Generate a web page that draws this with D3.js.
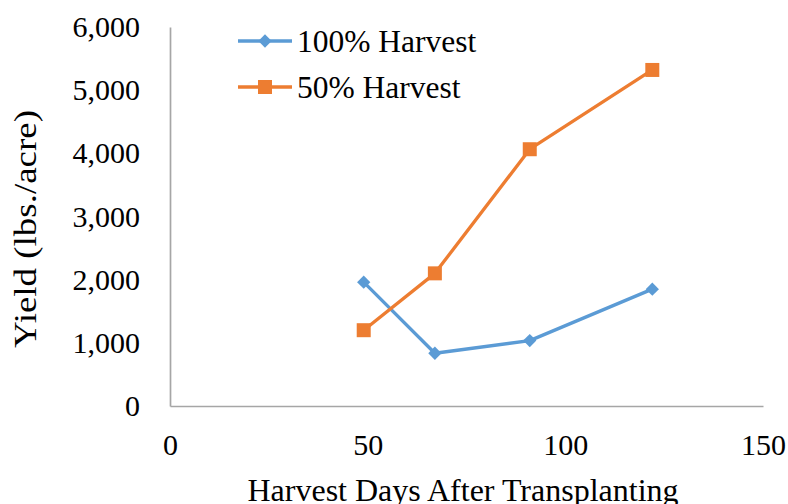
<html>
<head>
<script src="https://cdn.jsdelivr.net/npm/d3@7"></script>
<style>
  body { margin: 0; background: #fff; }
  text { font-family: "Liberation Serif", "Times New Roman", serif; fill: #000; }
</style>
</head>
<body>
<script>
// data
var days = [49, 67, 91, 122];
var full = [1960, 835, 1035, 1850];     // 100% Harvest
var half = [1200, 2100, 4065, 5320];    // 50% Harvest
var xTicks = [0, 50, 100, 150];
var yTicks = [0, 1000, 2000, 3000, 4000, 5000, 6000];
var seriesNames = ["100% Harvest", "50% Harvest"];

var w = 788, h = 504;
var m = { left: 170, right: 763, top: 27, bottom: 406 };

var svg = d3.select("body").append("svg")
    .attr("width", w)
    .attr("height", h);

var x = d3.scaleLinear().domain([0, 150]).range([m.left, m.right]);
var y = d3.scaleLinear().domain([0, 6000]).range([m.bottom, m.top]);

/* axes */
var yAxis = svg.append("g")
    .attr("transform", "translate(" + m.left + ",0)")
    .call(d3.axisLeft(y).tickValues(yTicks).tickSize(0).tickPadding(30)
        .tickFormat(d3.format(",")));
var xAxis = svg.append("g")
    .attr("transform", "translate(0," + m.bottom + ")")
    .call(d3.axisBottom(x).tickValues(xTicks).tickSize(0).tickPadding(28));

[xAxis, yAxis].forEach(function(a) {
    a.select(".domain").attr("stroke", "#a6a6a6").attr("stroke-width", 1.7);
    a.selectAll("text")
        .style("font-family", "Liberation Serif")
        .style("font-size", "30px")
        .attr("fill", "#000");
});

svg.append("text")
    .attr("x", 463)
    .attr("y", 501)
    .attr("text-anchor", "middle")
    .style("font-size", "32px")
    .text("Harvest Days After Transplanting");

svg.append("text")
    .attr("transform", "translate(35.5,229) rotate(-90)")
    .attr("text-anchor", "middle")
    .attr("textLength", 238)
    .attr("lengthAdjust", "spacingAndGlyphs")
    .style("font-size", "31px")
    .text("Yield (lbs./acre)");

/* lines */
var series = [
    { name: seriesNames[0], values: full, color: "#5b9bd5", size: 88, rot: 45 },
    { name: seriesNames[1], values: half, color: "#ed7d31", size: 196, rot: 0 }
];

var line = d3.line()
    .x(function(d, i) { return x(days[i]); })
    .y(function(d) { return y(d); });

series.forEach(function(s) {
    svg.append("path")
        .datum(s.values)
        .attr("d", line)
        .attr("fill", "none")
        .attr("stroke", s.color)
        .attr("stroke-width", 3.3)
        .attr("stroke-linejoin", "round");

    svg.selectAll(null)
        .data(s.values)
        .enter()
        .append("path")
        .attr("transform", function(d, i) {
            return "translate(" + x(days[i]) + "," + y(d) + ") rotate(" + s.rot + ")";
        })
        .attr("d", d3.symbol().type(d3.symbolSquare).size(s.size))
        .attr("fill", s.color);
});

/* legend */
var legend = svg.append("g");
series.forEach(function(s, i) {
    var ly = 41 + i * 46;
    legend.append("line")
        .attr("x1", 238).attr("x2", 292)
        .attr("y1", ly).attr("y2", ly)
        .attr("stroke", s.color)
        .attr("stroke-width", 3.3);
    legend.append("path")
        .attr("transform", "translate(265," + ly + ") rotate(" + s.rot + ")")
        .attr("d", d3.symbol().type(d3.symbolSquare).size(s.size))
        .attr("fill", s.color);
    legend.append("text")
        .attr("x", 297)
        .attr("y", ly + 10.5)
        .style("font-size", "31.5px")
        .text(s.name);
});
</script>
</body>
</html>
